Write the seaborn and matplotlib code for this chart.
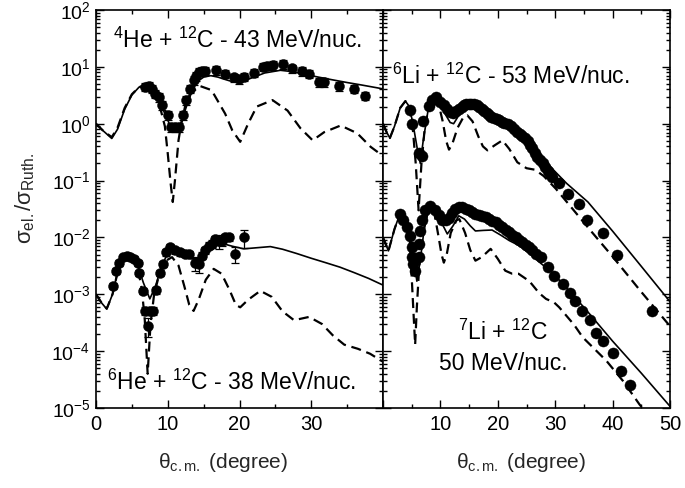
import numpy as np
import pandas as pd
import matplotlib
matplotlib.use("Agg")
import matplotlib.pyplot as plt
from matplotlib.ticker import FixedLocator, MultipleLocator, LogLocator, NullFormatter
import seaborn as sns

# ---------------- 4He + 12C, 43 MeV/nucleon ----------------
he4_theta = [6.85, 7.32, 7.78, 8.25, 8.72, 9.18, 9.97, 10.44, 11.05, 11.5, 12.12, 12.59,
             13.15, 13.71, 13.99, 14.31, 14.78, 15.24, 16.78, 17.95, 19.2, 19.9, 20.6,
             22.0, 23.3, 23.9, 24.6, 26.0, 27.3, 28.7, 29.7, 31.1, 31.8, 33.8, 35.9, 37.5]
he4_sigma = [4.45, 4.57, 4.16, 3.39, 2.95, 2.11, 1.41, 0.875, 0.875, 0.875, 1.41, 2.59,
             4.16, 5.82, 6.85, 8.17, 8.4, 8.5, 8.7, 7.6, 6.5, 6.0, 6.7,
             7.85, 10.0, 10.4, 10.7, 11.2, 9.4, 8.4, 7.6, 5.4, 5.4, 4.57, 4.15, 3.1]
he4_relerr = 0.17

he4_full_theta = [0, 1, 2.2, 3, 4, 5, 6, 6.85, 7.8, 8.7, 9.5, 10.3, 11.0, 11.8, 12.6, 13.4,
                  14.2, 15, 16, 17, 18, 19.2, 20.5, 22, 23.5, 25.7, 27.5, 29, 31, 33, 35,
                  37, 40]
he4_full_sigma = [1.0, 0.75, 0.55, 0.8, 1.8, 3.2, 4.4, 4.8, 4.2, 2.8, 1.6, 0.95, 0.72, 1.0,
                  2.0, 3.8, 5.6, 6.6, 7.0, 6.6, 6.0, 5.4, 5.6, 6.6, 7.8, 8.7, 8.2, 7.4,
                  6.6, 5.9, 5.3, 4.8, 4.1]
he4_bare_theta = [0, 1, 2.2, 3, 4, 5, 6, 6.85, 7.8, 8.6, 9.0, 9.6, 10.0, 10.4, 10.7, 11.0,
                  11.5, 11.8, 12.6, 13.15, 14.5, 16.1, 18.0, 19.0, 20.1, 21.2, 22.4, 24.6,
                  26.7, 28.5, 30.2, 31.8, 34.1, 36.4, 38.3, 40]
he4_bare_sigma = [1.0, 0.75, 0.58, 0.85, 1.9, 3.3, 4.4, 4.7, 4.0, 2.5, 1.8, 0.9, 0.3, 0.09,
                  0.042, 0.1, 0.51, 0.87, 2.6, 3.4, 4.6, 3.9, 1.5, 0.76, 0.48, 1.0, 2.0, 2.6,
                  1.7, 0.83, 0.51, 0.71, 0.93, 0.68, 0.39, 0.27]

# ---------------- 6He + 12C, 38 MeV/nucleon ----------------
he6_theta = [2.33, 2.8, 3.26, 3.82, 4.29, 4.76, 5.31, 5.92, 6.06, 6.53, 6.8, 7.46, 7.92,
             7.3, 8.39, 8.86, 9.32, 9.79, 10.35, 11.05, 11.75, 12.45, 12.9, 13.85, 14.3,
             14.8, 15.24, 15.7, 16.2, 16.64, 17.1, 17.57, 18.04, 18.5, 19.44, 20.6]
he6_sigma = [1.41e-3, 2.6e-3, 3.6e-3, 4.45e-3, 4.8e-3, 4.6e-3, 4.2e-3, 3.6e-3, 2.4e-3,
             1.15e-3, 5.1e-4, 5.1e-4, 5.1e-4, 2.8e-4, 1.17e-3, 2.4e-3, 3.4e-3, 5.5e-3,
             6.9e-3, 5.9e-3, 5.5e-3, 5.2e-3, 5.1e-3, 3.6e-3, 3.4e-3, 4.8e-3, 5.9e-3,
             7.2e-3, 7.7e-3, 9.3e-3, 8.7e-3, 8.7e-3, 1.02e-2, 1.0e-2, 5.1e-3, 1.0e-2]
he6_err = [1.7e-4, 3.0e-4, 4.0e-4, 5.0e-4, 5.5e-4, 5.5e-4, 5.0e-4, 4.5e-4, 3.0e-4,
           1.5e-4, 8e-5, 8e-5, 8e-5, 1.0e-4, 1.5e-4, 3.0e-4, 4.0e-4, 7.0e-4,
           8.0e-4, 7.0e-4, 7.0e-4, 7.0e-4, 7.0e-4, 1.0e-3, 1.0e-3, 7.0e-4, 8.0e-4,
           1.0e-3, 1.2e-3, 1.5e-3, 2.5e-3, 1.5e-3, 1.5e-3, 1.5e-3, 1.6e-3, 3.5e-3]

he6_full_theta = [0, 0.8, 1.5, 2.3, 3, 3.7, 4.3, 5.0, 5.8, 6.6, 7.5, 8.3, 9.2, 10.4, 11.5,
                  12.5, 13.3, 14.2, 15.2, 16.5, 17.8, 19, 20.6, 22.5, 24.3, 26, 28, 30, 32,
                  34, 36, 38, 40]
he6_full_sigma = [1.0e-3, 7e-4, 5.5e-4, 1.0e-3, 2.4e-3, 4.0e-3, 4.8e-3, 4.5e-3, 3.3e-3,
                  1.6e-3, 8.3e-4, 1.4e-3, 3.3e-3, 6.5e-3, 5.8e-3, 5.0e-3, 4.2e-3, 4.2e-3,
                  5.5e-3, 7.0e-3, 7.7e-3, 7.0e-3, 6.3e-3, 6.6e-3, 6.9e-3, 6.2e-3, 5.2e-3,
                  4.3e-3, 3.6e-3, 3.0e-3, 2.4e-3, 1.9e-3, 1.45e-3]
he6_bare_theta = [0, 0.8, 1.5, 2.3, 3, 3.7, 4.3, 5.0, 5.8, 6.4, 6.8, 7.2, 7.6, 8.1, 8.8,
                  9.6, 10.6, 11.5, 12.3, 13.0, 13.6, 14.3, 15.3, 16.4, 17.5, 18.6, 19.5,
                  20.1, 21.2, 22.9, 24.5, 26, 27.6, 29.7, 31.5, 33, 34.6, 36.5, 38.2, 40]
he6_bare_sigma = [1.0e-3, 7e-4, 5.6e-4, 1.0e-3, 2.4e-3, 4.0e-3, 4.7e-3, 4.4e-3, 3.0e-3,
                  1.2e-3, 3.5e-4, 4e-5, 3e-4, 1.0e-3, 2.2e-3, 3.8e-3, 4.5e-3, 3.2e-3,
                  1.4e-3, 6.5e-4, 5.1e-4, 8e-4, 1.8e-3, 2.8e-3, 2.3e-3, 1.2e-3, 6.5e-4,
                  5.9e-4, 8e-4, 1.15e-3, 9e-4, 5e-4, 3.5e-4, 4e-4, 3e-4, 1.9e-4, 1.3e-4,
                  1.1e-4, 9e-5, 6.5e-5]

# ---------------- 6Li + 12C, 53 MeV/nucleon ----------------
li6_theta = [4.74, 5.0, 6.2, 6.8, 6.96, 7.95, 8.6, 9.2, 10.0, 10.6, 11.2, 11.7, 12.2, 12.7,
             13.2, 13.7, 14.1, 14.5, 14.9, 15.4, 15.8, 16.3, 16.7, 17.2, 17.6, 18.1, 18.5,
             18.9, 19.3, 19.8, 20.2, 20.7, 21.1, 21.7, 22.3, 22.8, 23.4, 23.9, 24.3, 24.8,
             25.2, 25.6, 26.0, 26.5, 26.9, 27.4, 27.8, 28.3, 28.7, 29.1, 29.5, 30.7, 32.2,
             34.2, 35.6, 38.4, 40.8, 46.9]
li6_sigma = [1.75, 1.0, 0.3, 0.27, 1.1, 2.05, 2.6, 2.95, 2.4, 2.1, 1.8, 1.6, 1.55, 1.65,
             1.8, 1.95, 2.1, 2.2, 2.25, 2.25, 2.2, 2.1, 2.0, 1.85, 1.7, 1.55, 1.42,
             1.33, 1.26, 1.2, 1.14, 1.08, 1.03, 0.97, 0.9, 0.82, 0.72, 0.66, 0.6, 0.55,
             0.49, 0.43, 0.37, 0.31, 0.26, 0.23, 0.2, 0.17, 0.15, 0.13, 0.115, 0.09, 0.059,
             0.039, 0.02, 0.012, 0.005, 5.1e-4]

li6_full_theta = [0, 0.6, 1.2, 2.0, 3.0, 3.9, 4.6, 5.3, 6.0, 6.5, 7.0, 7.8, 8.5, 9.1, 9.8,
                  10.8, 11.7, 12.3, 13.2, 14.2, 15.0, 16.0, 17.6, 19.5, 21.7, 24.0, 26.3,
                  28.0, 29.8, 32.0, 35.7, 40, 45, 50]
li6_full_sigma = [1.0, 0.72, 0.56, 0.9, 1.9, 2.5, 2.0, 0.9, 0.35, 0.2, 0.5, 1.6, 2.6, 3.0,
                  2.5, 1.5, 1.05, 1.0, 1.4, 1.9, 2.0, 1.8, 1.4, 1.15, 0.94, 0.65, 0.39,
                  0.24, 0.15, 0.089, 0.042, 0.0129, 3.1e-3, 7.4e-4]
li6_bare_theta = [0, 0.6, 1.2, 2.0, 3.0, 3.9, 4.6, 5.2, 5.7, 6.2, 6.7, 7.3, 8.0, 8.7, 9.1,
                  9.7, 10.4, 11.0, 11.5, 12.1, 13.0, 14.0, 14.7, 15.6, 16.6, 17.4, 18.2,
                  19.5, 20.8, 22.0, 23.4, 25.0, 26.5, 28.0, 30.1, 33, 36, 40, 45, 50]
li6_bare_sigma = [1.0, 0.72, 0.56, 0.9, 1.9, 2.5, 2.0, 0.8, 0.2, 0.03, 0.2, 0.9, 2.0, 2.8,
                  3.0, 2.2, 1.1, 0.5, 0.35, 0.45, 0.85, 1.3, 1.4, 1.1, 0.6, 0.4, 0.34,
                  0.42, 0.51, 0.36, 0.21, 0.165, 0.155, 0.12, 0.072, 0.032, 0.0138, 4.6e-3,
                  1.1e-3, 2.75e-4]

# ---------------- 7Li + 12C, 50 MeV/nucleon (x 10^-2) ----------------
li7_theta = [3.0, 3.57, 4.15, 4.74, 5.0, 5.0, 5.3, 5.6, 6.2, 6.2, 6.5, 6.8, 7.4, 8.25, 9.1,
             9.7, 10.3, 10.9, 11.45, 12.0, 12.6, 13.2, 13.8, 14.4, 14.95, 15.5, 16.1, 16.7,
             17.3, 17.9, 18.5, 19.0, 19.6, 20.2, 20.8, 21.4, 22.0, 22.5, 23.1, 23.7, 24.3,
             24.9, 25.5, 26.0, 26.6, 27.5, 28.7, 29.8, 31.3, 32.5, 33.5, 34.7, 36.0, 37.1,
             38.3, 40.1, 41.5, 43.0]
li7_sigma = [0.026, 0.02, 0.015, 0.0108, 6.7e-3, 4.5e-3, 3.4e-3, 2.6e-3, 4.5e-3, 7.7e-3,
             0.013, 0.02, 0.03, 0.036, 0.03, 0.025, 0.02, 0.02, 0.022, 0.027, 0.032, 0.034,
             0.034, 0.032, 0.03, 0.028, 0.026, 0.025, 0.024, 0.0225, 0.021, 0.0198, 0.0185,
             0.0168, 0.015, 0.0137, 0.0124, 0.0112, 0.01, 9.1e-3, 8.2e-3, 7.4e-3, 6.7e-3,
             5.9e-3, 5.1e-3, 4.5e-3, 2.96e-3, 2.1e-3, 1.5e-3, 1.07e-3, 7.7e-4, 5e-4, 3.5e-4,
             2.1e-4, 1.5e-4, 9.1e-5, 4.4e-5, 2.5e-5]

li7_full_theta = [0, 0.95, 2.0, 3.0, 3.8, 4.6, 5.3, 5.9, 6.5, 7.3, 8.25, 9.0, 10.0, 11.2,
                  12.2, 13.2, 14.2, 15.2, 16.1, 17.5, 19.0, 20.5, 22, 23.7, 25.5, 27.5,
                  29.5, 33, 36, 40, 45, 50]
li7_full_sigma = [0.01, 5.8e-3, 0.014, 0.027, 0.022, 0.012, 4.5e-3, 1.7e-3, 4e-3, 0.018,
                  0.036, 0.033, 0.02, 0.0115, 0.016, 0.024, 0.021, 0.016, 0.013, 0.0133,
                  0.0135, 0.011, 8.8e-3, 7.2e-3, 5.2e-3, 3.5e-3, 2.4e-3, 1.0e-3, 4.5e-4,
                  1.5e-4, 4.1e-5, 1.07e-5]
li7_bare_theta = [0, 0.95, 2.0, 3.0, 3.8, 4.6, 5.0, 5.3, 5.6, 5.9, 6.3, 7.0, 7.8, 8.25, 9.0,
                  9.7, 10.2, 10.6, 11.1, 11.8, 12.8, 13.3, 14.3, 15.2, 16.1, 17.2, 18.75,
                  20.0, 21.3, 22.5, 23.6, 25.5, 27.2, 28.4, 29.8, 30.7, 33.3, 34.8, 38.9,
                  41.8, 44.7, 46.0]
li7_bare_sigma = [0.01, 5.8e-3, 0.014, 0.027, 0.022, 0.012, 2e-3, 5e-4, 1.3e-4, 6e-4, 3e-3,
                  0.012, 0.028, 0.034, 0.025, 0.01, 5e-3, 3.6e-3, 5e-3, 0.012, 0.02, 0.021,
                  0.012, 6e-3, 3.9e-3, 4.5e-3, 6.3e-3, 4.2e-3, 2.6e-3, 2.3e-3, 2.3e-3,
                  1.7e-3, 1.05e-3, 8.3e-4, 7.2e-4, 5.9e-4, 2.9e-4, 1.75e-4, 6.8e-5, 3e-5,
                  1.15e-5, 8e-6]

panel_labels = {
    "he4": r"$^{4}$He + $^{12}$C - 43 MeV/nuc.",
    "he6": r"$^{6}$He + $^{12}$C - 38 MeV/nuc.",
    "li6": r"$^{6}$Li + $^{12}$C - 53 MeV/nuc.",
    "li7a": r"$^{7}$Li + $^{12}$C",
    "li7b": "50 MeV/nuc.",
}
left_xticks = [0, 10, 20, 30, 40]
left_xticklabels = ["0", "10", "20", "30", ""]
right_xticks = [0, 10, 20, 30, 40, 50]
right_xticklabels = ["", "10", "20", "30", "40", "50"]

# ---------------- style ----------------
sns.set_theme(style="ticks")
plt.rcParams["font.family"] = ["Liberation Sans", "DejaVu Sans"]
plt.rcParams["mathtext.fontset"] = "custom"
plt.rcParams["mathtext.rm"] = "Liberation Sans"
plt.rcParams["mathtext.it"] = "Liberation Sans:italic"
plt.rcParams["mathtext.bf"] = "Liberation Sans:bold"
plt.rcParams["axes.linewidth"] = 1.2

W, H = 685, 488
fig = plt.figure(figsize=(W / 100, H / 100), dpi=100)
axL = fig.add_axes([96 / W, 80 / H, 287 / W, 398 / H])
axR = fig.add_axes([383 / W, 80 / H, 287 / W, 398 / H])

SOLID = dict(color="black", lw=1.2, sort=False, estimator=None)
DASHED = dict(color="black", lw=1.6, linestyle=(0, (4.5, 2.6)), sort=False, estimator=None)


def curve(ax, th, sg, style):
    df = pd.DataFrame({"theta": th, "sigma": sg})
    sns.lineplot(data=df, x="theta", y="sigma", ax=ax, **style)


def points(ax, th, sg, ms, err=None):
    df = pd.DataFrame({"theta": th, "sigma": sg})
    if err is not None:
        ax.errorbar(df["theta"], df["sigma"], yerr=err, fmt="none", ecolor="black",
                    elinewidth=0.9, capsize=3, capthick=0.9, zorder=3)
    sns.scatterplot(data=df, x="theta", y="sigma", ax=ax, color="black", s=ms,
                    edgecolor="black", linewidth=0.3, zorder=4)


for ax in (axL, axR):
    ax.set_yscale("log")

# left panel: helium isotopes
curve(axL, he4_full_theta, he4_full_sigma, SOLID)
curve(axL, he4_bare_theta, he4_bare_sigma, DASHED)
points(axL, he4_theta, he4_sigma, 52, err=np.array(he4_sigma) * he4_relerr)
curve(axL, he6_full_theta, he6_full_sigma, SOLID)
curve(axL, he6_bare_theta, he6_bare_sigma, DASHED)
points(axL, he6_theta, he6_sigma, 52, err=he6_err)

# right panel: lithium isotopes
curve(axR, li6_full_theta, li6_full_sigma, SOLID)
curve(axR, li6_bare_theta, li6_bare_sigma, DASHED)
points(axR, li6_theta, li6_sigma, 64)
curve(axR, li7_full_theta, li7_full_sigma, SOLID)
curve(axR, li7_bare_theta, li7_bare_sigma, DASHED)
points(axR, li7_theta, li7_sigma, 64)

for ax, xt, xl, xmax in ((axL, left_xticks, left_xticklabels, 40),
                         (axR, right_xticks, right_xticklabels, 50)):
    ax.set_xlim(0, xmax)
    ax.set_ylim(1e-5, 1e2)
    ax.xaxis.set_major_locator(FixedLocator(xt))
    ax.set_xticklabels(xl)
    ax.xaxis.set_minor_locator(MultipleLocator(5))
    ax.yaxis.set_major_locator(LogLocator(base=10, numticks=20))
    ax.yaxis.set_minor_locator(LogLocator(base=10, subs=np.arange(2, 10), numticks=100))
    ax.yaxis.set_minor_formatter(NullFormatter())
    ax.tick_params(which="both", direction="in", top=True, right=True,
                   labelsize=14, width=1.0, colors="black")
    ax.tick_params(which="major", length=6, pad=4)
    ax.tick_params(which="minor", length=3)
    ax.tick_params(axis="x", which="major", labelsize=14.5, pad=5)
    ax.set_xlabel("")
    ax.set_ylabel("")
    for s in ax.spines.values():
        s.set_color("black")
        s.set_linewidth(1.2)

axR.tick_params(labelleft=False)

ann = dict(fontsize=16.5, color="black", va="baseline")
axL.text(0.058, 0.905, panel_labels["he4"], transform=axL.transAxes, ha="left", **ann)
axL.text(0.040, 0.045, panel_labels["he6"], transform=axL.transAxes, ha="left", **ann)
axR.text(0.030, 0.815, panel_labels["li6"], transform=axR.transAxes, ha="left", **ann)
axR.text(0.418, 0.171, panel_labels["li7a"], transform=axR.transAxes, ha="center", **ann)
axR.text(0.418, 0.095, panel_labels["li7b"], transform=axR.transAxes, ha="center", **ann)

xlab = r"$\mathregular{θ_{c.m.}}$ (degree)"
fig.text(223 / W, 25 / H, xlab, ha="center", va="center", fontsize=15)
fig.text(521 / W, 25 / H, xlab, ha="center", va="center", fontsize=15)
fig.text(25 / W, (H - 198) / H, r"$\mathregular{σ_{el.}/σ_{Ruth.}}$", rotation=90,
         ha="center", va="center", fontsize=16)

fig.savefig("out.png", dpi=100, facecolor="white")
